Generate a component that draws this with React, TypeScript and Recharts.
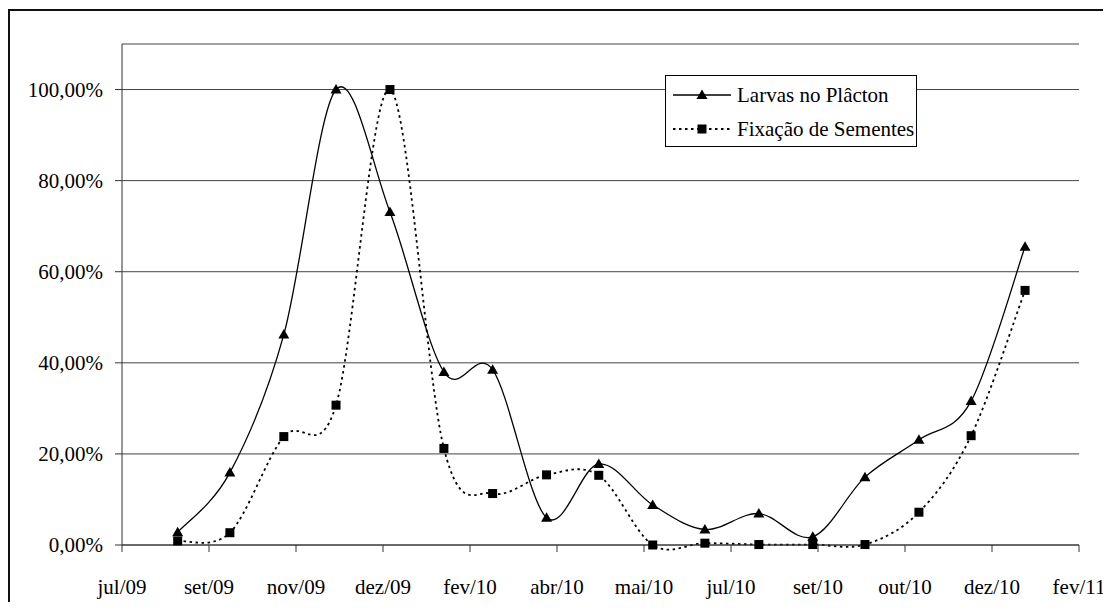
import { CartesianGrid, Legend, Line, LineChart, XAxis, YAxis } from 'recharts'

const FONT = "Liberation Serif, Tinos, DejaVu Serif, serif"

// eixo de datas: dias contados a partir de 31/07/2009
const INICIO = Date.UTC(2009, 6, 31)
const DIA = 86400000
const MESES = ['jan', 'fev', 'mar', 'abr', 'mai', 'jun', 'jul', 'ago', 'set', 'out', 'nov', 'dez']

const COLETAS = [
  '2009-09-01', '2009-10-01', '2009-11-01', '2009-12-01', '2010-01-01', '2010-02-01',
  '2010-03-01', '2010-04-01', '2010-05-01', '2010-06-01', '2010-07-01', '2010-08-01',
  '2010-09-01', '2010-10-01', '2010-11-01', '2010-12-01', '2011-01-01',
]
const LARVAS = [
  0.028, 0.159, 0.462, 1.0, 0.731, 0.38, 0.385, 0.06, 0.178,
  0.088, 0.034, 0.069, 0.018, 0.149, 0.231, 0.316, 0.655,
]
const SEMENTES = [
  0.009, 0.027, 0.238, 0.307, 1.0, 0.212, 0.113, 0.154, 0.153,
  0.0, 0.004, 0.001, 0.001, 0.001, 0.072, 0.24, 0.559,
]

const X_TICKS = [0, 50, 100, 150, 200, 250, 300, 350, 400, 450, 500, 550]
const Y_TICKS = [0, 0.2, 0.4, 0.6, 0.8, 1]

const data = COLETAS.map((d, i) => ({
  dia: (Date.parse(d) - INICIO) / DIA,
  larvas: LARVAS[i],
  sementes: SEMENTES[i],
}))

const fmtData = (v: number) => {
  const d = new Date(INICIO + v * DIA)
  return `${MESES[d.getUTCMonth()]}/${String(d.getUTCFullYear()).slice(2)}`
}
const fmtPct = (v: number) => `${(v * 100).toFixed(2).replace('.', ',')}%`

// suavização no estilo do Excel (bezier com tangentes de Catmull-Rom)
const curvaSuave = (context: any) => {
  let pts: number[][] = []
  return {
    areaStart() {},
    areaEnd() {},
    lineStart() { pts = [] },
    point(x: number, y: number) { pts.push([+x, +y]) },
    lineEnd() {
      if (!pts.length) return
      context.moveTo(pts[0][0], pts[0][1])
      for (let i = 0; i < pts.length - 1; i++) {
        const p0 = pts[i - 1] || pts[i]
        const p1 = pts[i]
        const p2 = pts[i + 1]
        const p3 = pts[i + 2] || p2
        context.bezierCurveTo(
          p1[0] + (p2[0] - p0[0]) / 6, p1[1] + (p2[1] - p0[1]) / 6,
          p2[0] - (p3[0] - p1[0]) / 6, p2[1] - (p3[1] - p1[1]) / 6,
          p2[0], p2[1],
        )
      }
    },
  }
}

const Triangulo = (p: any) => (
  <polygon
    key={`t-${p.index}`}
    points={`${p.cx},${p.cy - 5.5} ${p.cx - 5.5},${p.cy + 4} ${p.cx + 5.5},${p.cy + 4}`}
    fill="#000"
  />
)

const Quadrado = (p: any) => (
  <rect key={`q-${p.index}`} x={p.cx - 4.5} y={p.cy - 4.5} width={9} height={9} fill="#000" />
)

const CaixaLegenda = ({ payload }: any) => {
  const itens = [...(payload || [])].sort((a: any, b: any) =>
    a.dataKey === 'larvas' ? -1 : b.dataKey === 'larvas' ? 1 : 0,
  )
  return (
    <div
      style={{
        border: '1px solid #000',
        background: '#fff',
        height: 68,
        paddingTop: 2,
        boxSizing: 'content-box',
        fontFamily: FONT,
        fontSize: 21,
        color: '#000',
      }}
    >
      {itens.map((item: any) => {
        const solida = item.dataKey === 'larvas'
        return (
          <div key={item.value} style={{ display: 'flex', alignItems: 'center', height: 34 }}>
            <svg width={71} height={34}>
              <line
                x1={7}
                x2={65}
                y1={17}
                y2={17}
                stroke="#000"
                strokeWidth={solida ? 1.3 : 1.8}
                strokeDasharray={solida ? undefined : '2.5 3.5'}
              />
              {solida ? (
                <polygon points="36,11.5 30.5,21 41.5,21" fill="#000" />
              ) : (
                <rect x={31.5} y={12.5} width={9} height={9} fill="#000" />
              )}
            </svg>
            <span style={{ whiteSpace: 'nowrap' }}>{item.value}</span>
          </div>
        )
      })}
    </div>
  )
}

export default function App() {
  return (
    <div style={{ width: 1103, height: 593, marginTop: 1, overflow: 'hidden', fontFamily: FONT }}>
      <div style={{ borderLeft: '2px solid #111', borderTop: '2px solid #111', width: 1150, height: 700 }}>
        <LineChart
          width={1100}
          height={600}
          data={data}
          margin={{ top: 33, right: 31, left: 0, bottom: 15 }}
        >
          <CartesianGrid horizontal vertical={false} stroke="#444" />
          <XAxis
            type="number"
            dataKey="dia"
            domain={[0, 550]}
            ticks={X_TICKS}
            interval={0}
            tickFormatter={fmtData}
            height={51}
            tickSize={7}
            tickMargin={27}
            axisLine={{ stroke: '#333' }}
            tickLine={{ stroke: '#333' }}
            tick={{ fill: '#000', fontSize: 21, fontFamily: FONT }}
          />
          <YAxis
            type="number"
            domain={[0, 1.1]}
            ticks={Y_TICKS}
            interval={0}
            tickFormatter={fmtPct}
            width={112}
            tickSize={7}
            tickMargin={12}
            axisLine={{ stroke: '#333' }}
            tickLine={{ stroke: '#333' }}
            tick={{ fill: '#000', fontSize: 21, fontFamily: FONT }}
          />
          <Legend
            layout="vertical"
            align="center"
            verticalAlign="middle"
            content={CaixaLegenda}
            wrapperStyle={{ left: 655, top: 64, width: 252 }}
          />
          <Line
            name="Larvas no Plâcton"
            dataKey="larvas"
            type={curvaSuave as any}
            stroke="#000"
            strokeWidth={1.3}
            dot={Triangulo}
            activeDot={false}
            isAnimationActive={false}
          />
          <Line
            name="Fixação de Sementes"
            dataKey="sementes"
            type={curvaSuave as any}
            stroke="#000"
            strokeWidth={1.8}
            strokeDasharray="2.5 3.5"
            dot={Quadrado}
            activeDot={false}
            isAnimationActive={false}
          />
        </LineChart>
      </div>
    </div>
  )
}
